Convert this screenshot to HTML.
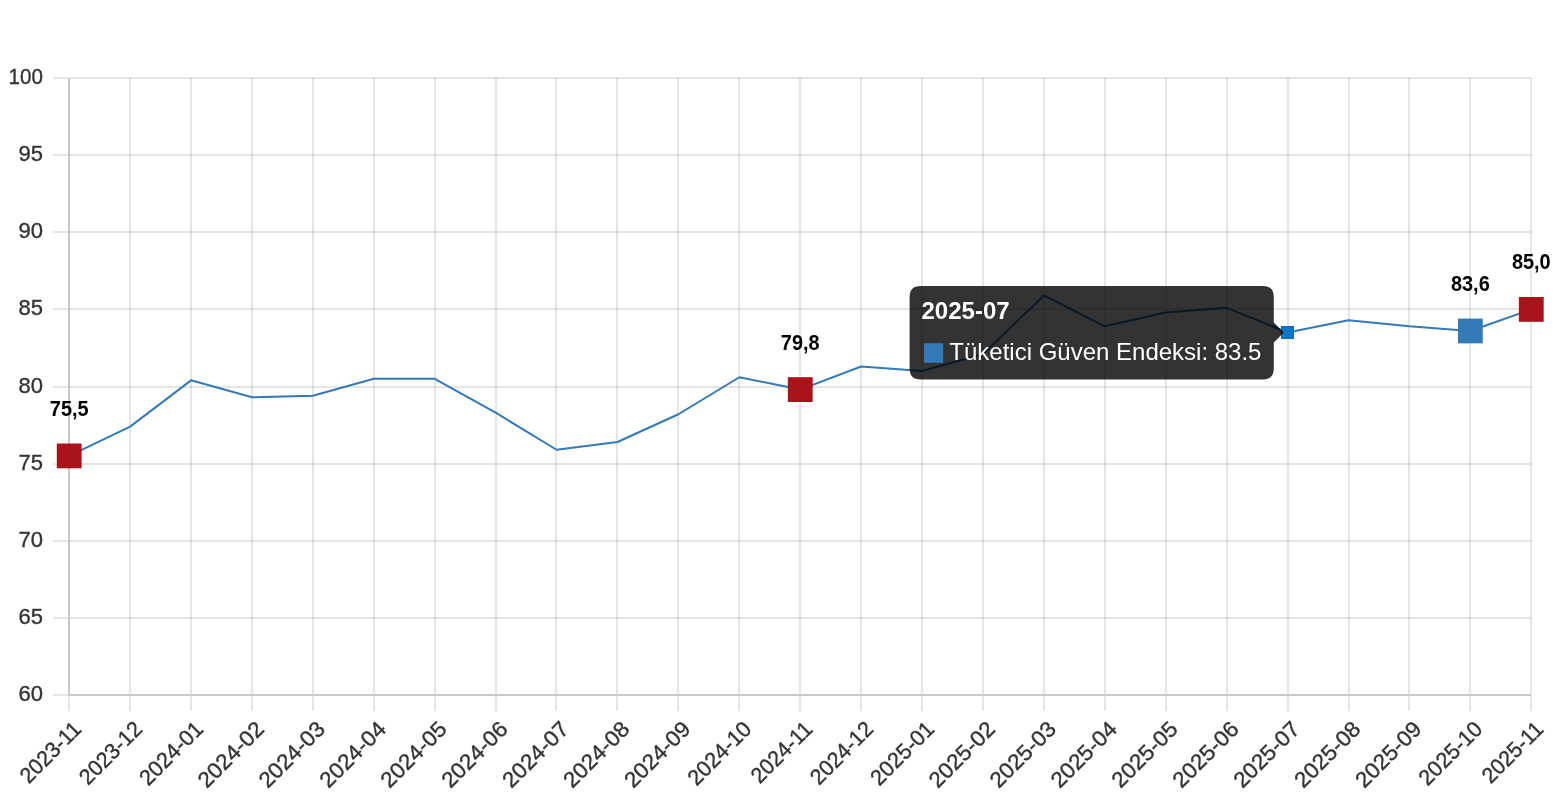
<!DOCTYPE html>
<html lang="tr"><head><meta charset="utf-8"><title>Tüketici Güven Endeksi</title>
<style>html,body{margin:0;padding:0;background:#fff;}body{width:1556px;height:800px;overflow:hidden;}svg{display:block;}text{font-family:"Liberation Sans",Arial,Helvetica,sans-serif;}.tk{font-size:22px;fill:#333;stroke:#333;stroke-width:0.35px;}.dl{font-size:21.8px;font-weight:bold;fill:#000;text-anchor:middle;}</style></head><body>
<svg width="1556" height="800" viewBox="0 0 1556 800">
<rect width="1556" height="800" fill="#fff"/>
<g stroke="rgba(0,0,0,0.1)" stroke-width="2" fill="none">
<line x1="69" y1="696.0" x2="69" y2="711.0"/>
<line x1="130" y1="78.0" x2="130" y2="694.0"/>
<line x1="130" y1="696.0" x2="130" y2="711.0"/>
<line x1="191" y1="78.0" x2="191" y2="694.0"/>
<line x1="191" y1="696.0" x2="191" y2="711.0"/>
<line x1="252" y1="78.0" x2="252" y2="694.0"/>
<line x1="252" y1="696.0" x2="252" y2="711.0"/>
<line x1="313" y1="78.0" x2="313" y2="694.0"/>
<line x1="313" y1="696.0" x2="313" y2="711.0"/>
<line x1="374" y1="78.0" x2="374" y2="694.0"/>
<line x1="374" y1="696.0" x2="374" y2="711.0"/>
<line x1="435" y1="78.0" x2="435" y2="694.0"/>
<line x1="435" y1="696.0" x2="435" y2="711.0"/>
<line x1="496" y1="78.0" x2="496" y2="694.0"/>
<line x1="496" y1="696.0" x2="496" y2="711.0"/>
<line x1="556" y1="78.0" x2="556" y2="694.0"/>
<line x1="556" y1="696.0" x2="556" y2="711.0"/>
<line x1="617" y1="78.0" x2="617" y2="694.0"/>
<line x1="617" y1="696.0" x2="617" y2="711.0"/>
<line x1="678" y1="78.0" x2="678" y2="694.0"/>
<line x1="678" y1="696.0" x2="678" y2="711.0"/>
<line x1="739" y1="78.0" x2="739" y2="694.0"/>
<line x1="739" y1="696.0" x2="739" y2="711.0"/>
<line x1="800" y1="78.0" x2="800" y2="694.0"/>
<line x1="800" y1="696.0" x2="800" y2="711.0"/>
<line x1="861" y1="78.0" x2="861" y2="694.0"/>
<line x1="861" y1="696.0" x2="861" y2="711.0"/>
<line x1="922" y1="78.0" x2="922" y2="694.0"/>
<line x1="922" y1="696.0" x2="922" y2="711.0"/>
<line x1="983" y1="78.0" x2="983" y2="694.0"/>
<line x1="983" y1="696.0" x2="983" y2="711.0"/>
<line x1="1044" y1="78.0" x2="1044" y2="694.0"/>
<line x1="1044" y1="696.0" x2="1044" y2="711.0"/>
<line x1="1105" y1="78.0" x2="1105" y2="694.0"/>
<line x1="1105" y1="696.0" x2="1105" y2="711.0"/>
<line x1="1166" y1="78.0" x2="1166" y2="694.0"/>
<line x1="1166" y1="696.0" x2="1166" y2="711.0"/>
<line x1="1227" y1="78.0" x2="1227" y2="694.0"/>
<line x1="1227" y1="696.0" x2="1227" y2="711.0"/>
<line x1="1288" y1="78.0" x2="1288" y2="694.0"/>
<line x1="1288" y1="696.0" x2="1288" y2="711.0"/>
<line x1="1349" y1="78.0" x2="1349" y2="694.0"/>
<line x1="1349" y1="696.0" x2="1349" y2="711.0"/>
<line x1="1409" y1="78.0" x2="1409" y2="694.0"/>
<line x1="1409" y1="696.0" x2="1409" y2="711.0"/>
<line x1="1470" y1="78.0" x2="1470" y2="694.0"/>
<line x1="1470" y1="696.0" x2="1470" y2="711.0"/>
<line x1="1531" y1="78.0" x2="1531" y2="694.0"/>
<line x1="1531" y1="696.0" x2="1531" y2="711.0"/>
<line x1="53.0" y1="78" x2="68.0" y2="78"/>
<line x1="70.0" y1="78" x2="1531.0" y2="78"/>
<line x1="53.0" y1="155" x2="68.0" y2="155"/>
<line x1="70.0" y1="155" x2="1531.0" y2="155"/>
<line x1="53.0" y1="232" x2="68.0" y2="232"/>
<line x1="70.0" y1="232" x2="1531.0" y2="232"/>
<line x1="53.0" y1="309" x2="68.0" y2="309"/>
<line x1="70.0" y1="309" x2="1531.0" y2="309"/>
<line x1="53.0" y1="387" x2="68.0" y2="387"/>
<line x1="70.0" y1="387" x2="1531.0" y2="387"/>
<line x1="53.0" y1="464" x2="68.0" y2="464"/>
<line x1="70.0" y1="464" x2="1531.0" y2="464"/>
<line x1="53.0" y1="541" x2="68.0" y2="541"/>
<line x1="70.0" y1="541" x2="1531.0" y2="541"/>
<line x1="53.0" y1="618" x2="68.0" y2="618"/>
<line x1="70.0" y1="618" x2="1531.0" y2="618"/>
<line x1="53.0" y1="695" x2="68.0" y2="695"/>
</g>
<g stroke="rgba(0,0,0,0.21)" stroke-width="2" fill="none">
<line x1="69.0" y1="78.0" x2="69.0" y2="696.0"/>
<line x1="70.0" y1="695.0" x2="1531.0" y2="695.0"/>
</g>
<g class="tk" text-anchor="end">
<text x="43.0" y="83.60" textLength="34.4" lengthAdjust="spacingAndGlyphs">100</text>
<text x="43.0" y="160.60">95</text>
<text x="43.0" y="237.60">90</text>
<text x="43.0" y="314.60">85</text>
<text x="43.0" y="392.60">80</text>
<text x="43.0" y="469.60">75</text>
<text x="43.0" y="546.60">70</text>
<text x="43.0" y="623.60">65</text>
<text x="43.0" y="700.60">60</text>
</g>
<g class="tk" text-anchor="end">
<text transform="translate(82.70 730.4) rotate(-45)" textLength="76.4" lengthAdjust="spacingAndGlyphs">2023-11</text>
<text transform="translate(143.62 730.4) rotate(-45)" textLength="78.6" lengthAdjust="spacingAndGlyphs">2023-12</text>
<text transform="translate(204.54 730.4) rotate(-45)" textLength="79.6" lengthAdjust="spacingAndGlyphs">2024-01</text>
<text transform="translate(265.46 730.4) rotate(-45)" textLength="83.0" lengthAdjust="spacingAndGlyphs">2024-02</text>
<text transform="translate(326.38 730.4) rotate(-45)" textLength="83.0" lengthAdjust="spacingAndGlyphs">2024-03</text>
<text transform="translate(387.30 730.4) rotate(-45)" textLength="83.0" lengthAdjust="spacingAndGlyphs">2024-04</text>
<text transform="translate(448.22 730.4) rotate(-45)" textLength="83.0" lengthAdjust="spacingAndGlyphs">2024-05</text>
<text transform="translate(509.14 730.4) rotate(-45)" textLength="83.0" lengthAdjust="spacingAndGlyphs">2024-06</text>
<text transform="translate(570.06 730.4) rotate(-45)" textLength="83.0" lengthAdjust="spacingAndGlyphs">2024-07</text>
<text transform="translate(630.98 730.4) rotate(-45)" textLength="83.0" lengthAdjust="spacingAndGlyphs">2024-08</text>
<text transform="translate(691.90 730.4) rotate(-45)" textLength="83.0" lengthAdjust="spacingAndGlyphs">2024-09</text>
<text transform="translate(752.82 730.4) rotate(-45)" textLength="79.6" lengthAdjust="spacingAndGlyphs">2024-10</text>
<text transform="translate(813.74 730.4) rotate(-45)" textLength="76.4" lengthAdjust="spacingAndGlyphs">2024-11</text>
<text transform="translate(874.66 730.4) rotate(-45)" textLength="78.6" lengthAdjust="spacingAndGlyphs">2024-12</text>
<text transform="translate(935.58 730.4) rotate(-45)" textLength="79.6" lengthAdjust="spacingAndGlyphs">2025-01</text>
<text transform="translate(996.50 730.4) rotate(-45)" textLength="83.0" lengthAdjust="spacingAndGlyphs">2025-02</text>
<text transform="translate(1057.42 730.4) rotate(-45)" textLength="83.0" lengthAdjust="spacingAndGlyphs">2025-03</text>
<text transform="translate(1118.34 730.4) rotate(-45)" textLength="83.0" lengthAdjust="spacingAndGlyphs">2025-04</text>
<text transform="translate(1179.26 730.4) rotate(-45)" textLength="83.0" lengthAdjust="spacingAndGlyphs">2025-05</text>
<text transform="translate(1240.18 730.4) rotate(-45)" textLength="83.0" lengthAdjust="spacingAndGlyphs">2025-06</text>
<text transform="translate(1301.10 730.4) rotate(-45)" textLength="83.0" lengthAdjust="spacingAndGlyphs">2025-07</text>
<text transform="translate(1362.02 730.4) rotate(-45)" textLength="83.0" lengthAdjust="spacingAndGlyphs">2025-08</text>
<text transform="translate(1422.94 730.4) rotate(-45)" textLength="83.0" lengthAdjust="spacingAndGlyphs">2025-09</text>
<text transform="translate(1483.86 730.4) rotate(-45)" textLength="79.6" lengthAdjust="spacingAndGlyphs">2025-10</text>
<text transform="translate(1544.78 730.4) rotate(-45)" textLength="76.4" lengthAdjust="spacingAndGlyphs">2025-11</text>
</g>
<polyline points="69.20,455.91 130.12,426.60 191.04,380.33 251.96,397.30 312.88,395.75 373.80,378.79 434.72,378.79 495.64,412.72 556.56,449.74 617.48,442.03 678.40,414.26 739.32,377.25 800.24,389.59 861.16,366.45 922.08,371.07 983.00,354.11 1043.92,295.49 1104.84,326.34 1165.76,312.46 1226.68,307.83 1287.60,332.51 1348.52,320.17 1409.44,326.34 1470.36,330.97 1531.28,309.38" fill="none" stroke="#337ab7" stroke-width="2" stroke-linejoin="round"/>
<rect x="56.80" y="443.51" width="24.8" height="24.8" fill="#a9131a"/>
<rect x="787.84" y="377.19" width="24.8" height="24.8" fill="#a9131a"/>
<rect x="1518.88" y="296.98" width="24.8" height="24.8" fill="#a9131a"/>
<rect x="1457.96" y="318.57" width="24.8" height="24.8" fill="#337ab7"/>
<text class="dl" x="69.20" y="415.91" textLength="38.8" lengthAdjust="spacingAndGlyphs">75,5</text>
<text class="dl" x="800.24" y="349.59" textLength="38.8" lengthAdjust="spacingAndGlyphs">79,8</text>
<text class="dl" x="1470.36" y="290.97" textLength="38.8" lengthAdjust="spacingAndGlyphs">83,6</text>
<text class="dl" x="1531.28" y="269.38" textLength="38.8" lengthAdjust="spacingAndGlyphs">85,0</text>
<rect x="1281.00" y="326.01" width="13" height="13" fill="#0c6cc1"/>
<rect x="1282.30" y="327.31" width="10.4" height="10.4" fill="#1277c7"/>
<path d="M920.6,285.9 H1262.8 Q1273.8,285.9 1273.8,296.9 V322.5125 L1283.8,332.5125 L1273.8,342.5125 V368.5 Q1273.8,379.5 1262.8,379.5 H920.6 Q909.6,379.5 909.6,368.5 V296.9 Q909.6,285.9 920.6,285.9 Z" fill="rgba(0,0,0,0.8)"/>
<text x="921.5" y="319" font-size="24" font-weight="bold" fill="#fff">2025-07</text>
<rect x="924" y="343.2" width="19.2" height="19.6" fill="#337ab7"/>
<text x="949.3" y="360.2" font-size="24" fill="#fff">Tüketici Güven Endeksi: 83.5</text>
</svg></body></html>
